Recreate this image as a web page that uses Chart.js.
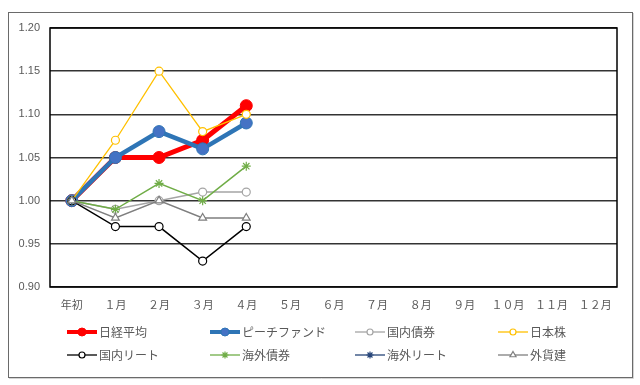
<!DOCTYPE html>
<html>
<head>
<meta charset="utf-8">
<script src="https://cdn.jsdelivr.net/npm/chart.js@4/dist/chart.umd.min.js"></script>
<style>
html,body{margin:0;padding:0;background:#fff;}
canvas{display:block;}
</style>
</head>
<body>
<canvas id="c" width="640" height="385"></canvas>
<script>
// ---- data ----
const categories = ['年初','１月','２月','３月','４月','５月','６月','７月','８月','９月','１０月','１１月','１２月'];
const seriesNames = ['日経平均','ピーチファンド','国内債券','日本株','国内リート','海外債券','海外リート','外貨建'];
const nikkei  = [1.00, 1.05, 1.05, 1.07, 1.11];
const peach   = [1.00, 1.05, 1.08, 1.06, 1.09];
const domBond = [1.00, 0.99, 1.00, 1.01, 1.01];
const jpStock = [1.00, 1.07, 1.15, 1.08, 1.10];
const domReit = [1.00, 0.97, 0.97, 0.93, 0.97];
const forBond = [1.00, 0.99, 1.02, 1.00, 1.04];
const forReit = [1.00];
const fxDenom = [1.00, 0.98, 1.00, 0.98, 0.98];
const yTicks  = [0.90, 0.95, 1.00, 1.05, 1.10, 1.15, 1.20];

const seriesData = [nikkei, peach, domBond, jpStock, domReit, forBond, forReit, fxDenom];
const styles = [
  {line:'#ff0000', fill:'#ff0000', pb:'#ff0000', w:5,   r:6,   lr:4,   lw:4,   ps:'circle',   pbw:1},
  {line:'#2e75b6', fill:'#4472c4', pb:'#2e75b6', w:4.5, r:6,   lr:4,   lw:4,   ps:'circle',   pbw:1},
  {line:'#a5a5a5', fill:'#ffffff', pb:'#a5a5a5', w:1.5, r:4,   lr:3,   lw:1.3, ps:'circle',   pbw:1.2},
  {line:'#ffc000', fill:'#ffffff', pb:'#ffc000', w:1.3, r:4,   lr:3,   lw:1.3, ps:'circle',   pbw:1.2},
  {line:'#000000', fill:'#ffffff', pb:'#000000', w:1.5, r:4,   lr:3,   lw:1.3, ps:'circle',   pbw:1.2},
  {line:'#70ad47', fill:'#70ad47', pb:'#70ad47', w:1.5, r:4.5, lr:3.5, lw:1.3, ps:'star',     pbw:1.2},
  {line:'#264478', fill:'#264478', pb:'#264478', w:1.5, r:4.5, lr:3.5, lw:1.3, ps:'star',     pbw:1.2},
  {line:'#7f7f7f', fill:'#ffffff', pb:'#7f7f7f', w:1.5, r:4.5, lr:3.5, lw:1.3, ps:'triangle', pbw:1.2}
];

const datasets = seriesNames.map((name, i) => ({
  label: name,
  data: seriesData[i],
  borderColor: styles[i].line,
  backgroundColor: styles[i].fill,
  borderWidth: styles[i].w,
  pointStyle: styles[i].ps,
  pointRadius: styles[i].r,
  pointBackgroundColor: styles[i].fill,
  pointBorderColor: styles[i].pb,
  pointBorderWidth: styles[i].pbw,
  tension: 0,
  spanGaps: false,
  order: seriesNames.length - i
}));

const frame = {
  id: 'frame',
  beforeDraw(chart) {
    const ctx = chart.ctx;
    ctx.save();
    ctx.fillStyle = '#ffffff';
    ctx.fillRect(0, 0, chart.width, chart.height);
    ctx.strokeStyle = '#d4d4d4';
    ctx.lineWidth = 1;
    ctx.beginPath();
    ctx.moveTo(633.5, 13); ctx.lineTo(633.5, 378.5); ctx.lineTo(9, 378.5);
    ctx.stroke();
    ctx.strokeStyle = '#6a6a6a';
    ctx.strokeRect(8.5, 12.5, 624, 365);
    ctx.restore();
  },
  beforeDatasetsDraw(chart) {
    const a = chart.chartArea, ctx = chart.ctx;
    ctx.save();
    ctx.strokeStyle = '#000000';
    ctx.lineWidth = 1.5;
    ctx.strokeRect(a.left, a.top, a.right - a.left, a.bottom - a.top);
    ctx.restore();
  },
  afterDraw(chart) {
    const ctx = chart.ctx;
    const colX = [67, 210, 355, 498];
    const rowY = [332, 355];
    ctx.save();
    seriesNames.forEach((name, i) => {
      const s = styles[i];
      const x = colX[i % 4], y = rowY[Math.floor(i / 4)];
      const len = 30;
      ctx.strokeStyle = s.line;
      ctx.lineWidth = s.lw;
      ctx.lineCap = 'butt';
      ctx.beginPath();
      ctx.moveTo(x, y); ctx.lineTo(x + len, y);
      ctx.stroke();
      ctx.fillStyle = s.fill;
      ctx.strokeStyle = s.pb;
      ctx.lineWidth = s.pbw;
      Chart.helpers.drawPoint(ctx, {pointStyle: s.ps, radius: s.lr, rotation: 0, borderWidth: s.pbw}, x + len / 2, y);
      ctx.fillStyle = '#595959';
      ctx.font = '12px "Noto Sans CJK JP"';
      ctx.textBaseline = 'middle';
      ctx.textAlign = 'left';
      ctx.fillText(name, x + len + 2, y);
    });
    ctx.restore();
  }
};

new Chart(document.getElementById('c'), {
  type: 'line',
  data: { labels: categories, datasets },
  plugins: [frame],
  options: {
    responsive: false,
    animation: false,
    layout: { padding: { left: 0, right: 23, top: 28, bottom: 68 } },
    plugins: { legend: { display: false }, tooltip: { enabled: false } },
    scales: {
      x: {
        type: 'category',
        offset: true,
        grid: { display: false, drawTicks: false },
        border: { display: false },
        ticks: {
          color: '#595959',
          font: { family: '"Noto Sans CJK JP"', size: 11 },
          padding: 11,
          maxRotation: 0,
          autoSkip: false
        },
        afterFit(s) { s.height = 30; }
      },
      y: {
        min: yTicks[0],
        max: yTicks[yTicks.length - 1],
        afterBuildTicks(s) { s.ticks = yTicks.map(v => ({ value: v })); },
        grid: { color: '#333333', lineWidth: 1.5, drawTicks: false },
        border: { display: false },
        ticks: {
          color: '#595959',
          font: { family: '"Liberation Sans", Arial', size: 11 },
          padding: 10,
          callback: v => Number(v).toFixed(2)
        },
        afterFit(s) { s.width = 50; }
      }
    }
  }
});
</script>
</body>
</html>
